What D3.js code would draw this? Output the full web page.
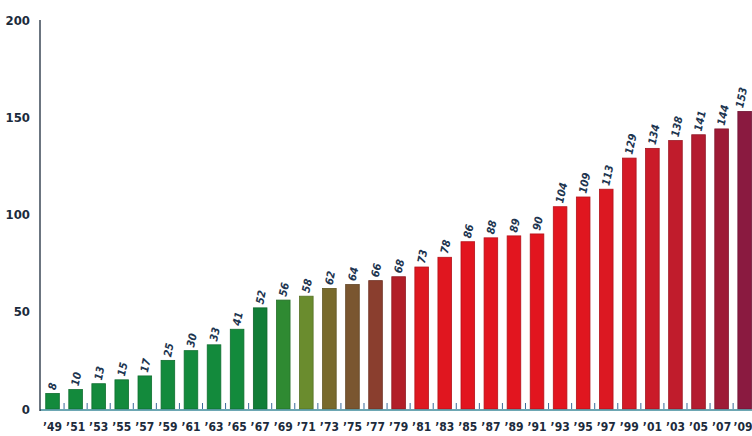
<!DOCTYPE html>
<html><head><meta charset="utf-8">
<script src="https://cdn.jsdelivr.net/npm/d3@7"></script>
<style>body{margin:0;background:#fff}svg{display:block}</style>
</head><body>
<script>
const years = ["’49","’51","’53","’55","’57","’59","’61","’63","’65","’67","’69","’71","’73","’75","’77","’79","’81","’83","’85","’87","’89","’91","’93","’95","’97","’99","’01","’03","’05","’07","’09"];
const values = [8,10,13,15,17,25,30,33,41,52,56,58,62,64,66,68,73,78,86,88,89,90,104,109,113,129,134,138,141,144,153];
const yTicks = [0,50,100,150,200];

const barColors = ["#138a3c","#138a3c","#138a3c","#138a3c","#138a3c","#138a3c","#138a3c","#138a3c","#138a3c","#117e37","#2f8a32","#6a8c2e","#786a2c","#7a5630","#8a3e2e","#b21e28",
 "#de1820","#e0161f","#e2151f","#e2151f","#e2151f","#e2151f","#e2151f","#e0161f","#dc1822","#d41a26","#ca1b29","#c01c2c","#b41c30","#9e1a36","#8a1a40"];

const W=752,H=436;
const svg=d3.select("body").append("svg").attr("width",W).attr("height",H);
const x=d3.scaleBand().domain(years).range([41,756.2]).paddingInner(0.41).paddingOuter(0.205);
const y=d3.scaleLinear().domain([0,200]).range([409,20]);
const txt="#1c2b3c";
const font="DejaVu Sans Condensed, DejaVu Sans";

svg.selectAll("rect.bar").data(values).enter().append("rect")
 .attr("x",(d,i)=>x(years[i])).attr("width",x.bandwidth())
 .attr("y",d=>y(d)).attr("height",d=>y(0)-y(d))
 .attr("fill",(d,i)=>barColors[i]).attr("stroke",(d,i)=>d3.color(barColors[i]).darker(0.6)).attr("stroke-width",0.8);

const step=x.step();
svg.selectAll("line.sep").data(years).enter().append("line")
 .attr("x1",d=>x(d)+x.bandwidth()+(step-x.bandwidth())/2).attr("x2",d=>x(d)+x.bandwidth()+(step-x.bandwidth())/2)
 .attr("y1",y(0)-6).attr("y2",y(0)).attr("stroke","#3a6a9a").attr("stroke-width",1);

svg.append("line").attr("x1",40).attr("x2",752).attr("y1",y(0)+1).attr("y2",y(0)+1).attr("stroke","#3d8a9a").attr("stroke-width",1.5);
svg.append("line").attr("x1",40).attr("x2",40).attr("y1",y(200)).attr("y2",y(0)+2).attr("stroke","#1c2b3c").attr("stroke-width",1.3);

svg.selectAll("text.yt").data(yTicks).enter().append("text")
 .attr("x",30).attr("y",d=>y(d)).attr("dy","0.35em").attr("text-anchor","end")
 .attr("font-family",font).attr("font-weight","bold").attr("font-size",13)
 .attr("fill",txt).text(d=>d);

svg.selectAll("text.xt").data(years).enter().append("text")
 .attr("x",(d,i)=>Math.min(x(d)+x.bandwidth()/2, W-9)).attr("y",431).attr("text-anchor","middle")
 .attr("font-family",font).attr("font-weight","bold").attr("font-size",12)
 .attr("fill",txt).text(d=>d);

svg.selectAll("text.vl").data(values).enter().append("text")
 .attr("transform",(d,i)=>`translate(${Math.min(x(years[i])+x.bandwidth()/2+3, W-9)},${y(d)-3}) rotate(-78)`)
 .attr("font-family",font).attr("font-weight","bold").attr("font-style","italic").attr("font-size",11)
 .attr("fill","#1d3550").text(d=>d);
</script>
</body></html>
